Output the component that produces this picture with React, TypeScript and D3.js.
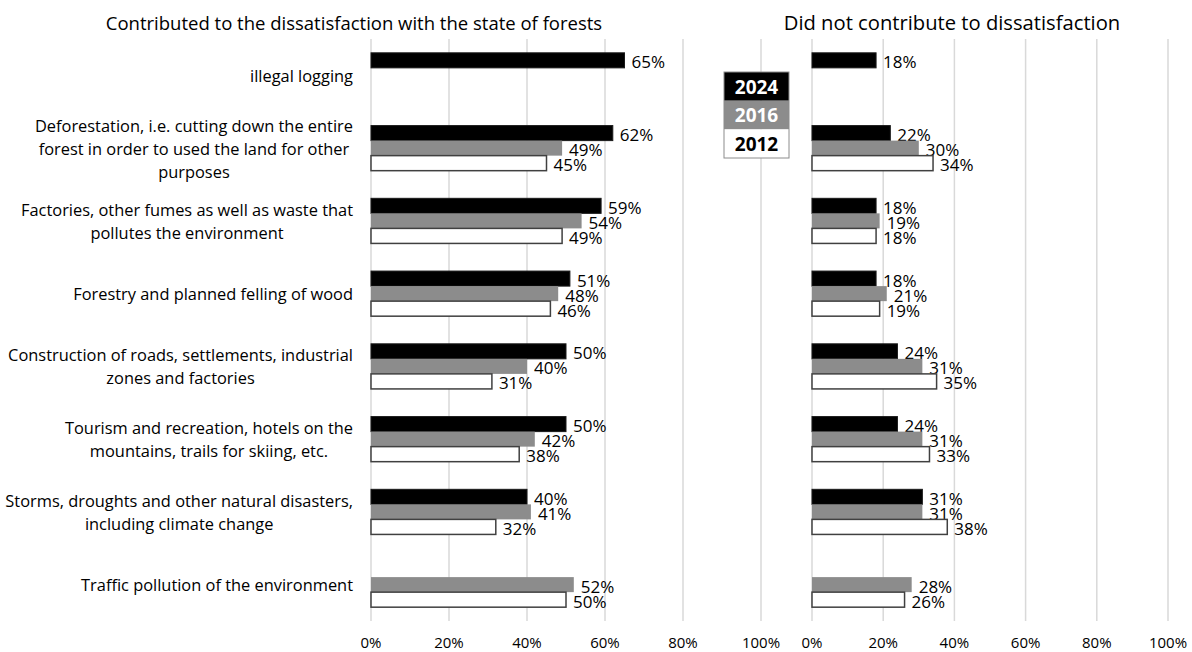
import React from "react";
import * as d3 from "d3";

const categories = [
  "illegal logging",
  "Deforestation",
  "Factories",
  "Forestry",
  "Construction",
  "Tourism",
  "Storms",
  "Traffic",
];

const categoryLines: string[][] = [
  ["illegal logging"],
  ["Deforestation, i.e. cutting down the entire", "forest in order to used the land for other", "purposes"],
  ["Factories, other fumes as well as waste that", "pollutes the environment"],
  ["Forestry and planned felling of wood"],
  ["Construction of roads, settlements, industrial", "zones and factories"],
  ["Tourism and recreation, hotels on the", "mountains, trails for skiing, etc."],
  ["Storms, droughts and other natural disasters,", "including climate change"],
  ["Traffic pollution of the environment"],
];

const years = ["2024", "2016", "2012"];

// Contributed to dissatisfaction (%)
const contributed2024 = [65, 62, 59, 51, 50, 50, 40, null];
const contributed2016 = [null, 49, 54, 48, 40, 42, 41, 52];
const contributed2012 = [null, 45, 49, 46, 31, 38, 32, 50];

// Did not contribute (%)
const notContributed2024 = [18, 22, 18, 18, 24, 24, 31, null];
const notContributed2016 = [null, 30, 19, 21, 31, 31, 31, 28];
const notContributed2012 = [null, 34, 18, 19, 35, 33, 38, 26];

const tickValues = [0, 0.2, 0.4, 0.6, 0.8, 1];

const leftTitle = "Contributed to the dissatisfaction with the state of forests";
const rightTitle = "Did not contribute to dissatisfaction";

const W = 1192;
const H = 652;
const FONT = "'Open Sans', sans-serif";

const fills: Record<string, string> = { "2024": "#000000", "2016": "#8c8c8c", "2012": "#ffffff" };
const strokes: Record<string, string> = { "2024": "#1a1a1a", "2016": "none", "2012": "#404040" };
const legendText: Record<string, string> = { "2024": "#ffffff", "2016": "#ffffff", "2012": "#000000" };

let ctx: CanvasRenderingContext2D | null = null;
function measure(text: string, font: string) {
  if (!ctx) ctx = document.createElement("canvas").getContext("2d");
  if (!ctx) return text.length * 7.5;
  ctx.font = font;
  return ctx.measureText(text).width;
}

export default function App() {
  const xL = d3.scaleLinear().domain([0, 1]).range([371, 761]);
  const xR = d3.scaleLinear().domain([0, 1]).range([812, 1168]);
  const y = d3.scaleBand<string>().domain(categories).range([39, 621]).paddingInner(0.38).paddingOuter(0.19);
  const yi = d3.scaleBand<string>().domain(years).range([0, y.bandwidth()]);
  const fmt = d3.format(".0%");

  const leftSeries: Record<string, (number | null)[]> = {
    "2024": contributed2024,
    "2016": contributed2016,
    "2012": contributed2012,
  };
  const rightSeries: Record<string, (number | null)[]> = {
    "2024": notContributed2024,
    "2016": notContributed2016,
    "2012": notContributed2012,
  };

  const catFontSize = 16.4;
  const catFont = `${catFontSize}px ${FONT}`;
  const valueFontSize = 17;
  const tickFontSize = 15;

  const panel = (x: d3.ScaleLinear<number, number>, series: Record<string, (number | null)[]>, key: string) => (
    <g key={key}>
      {tickValues.map((t) => (
        <line key={t} x1={x(t)} x2={x(t)} y1={39} y2={621} stroke="#d9d9d9" strokeWidth={1.5} />
      ))}
      {categories.map((c, i) =>
        years.map((yr) => {
          const v = series[yr][i];
          if (v == null) return null;
          const y0 = (y(c) as number) + (yi(yr) as number);
          const h = yi.bandwidth();
          return (
            <g key={c + yr}>
              <rect
                x={x(0)}
                y={y0}
                width={x(v / 100) - x(0)}
                height={h}
                fill={fills[yr]}
                stroke={strokes[yr]}
                strokeWidth={yr === "2012" ? 1.5 : 1}
              />
              <text
                x={x(v / 100) + 7}
                y={y0 + h / 2 + 1.5}
                dominantBaseline="central"
                fontFamily={FONT}
                fontSize={valueFontSize}
                fill="#000"
              >
                {v + "%"}
              </text>
            </g>
          );
        })
      )}
      {tickValues.map((t) => (
        <text
          key={"t" + t}
          x={x(t)}
          y={642}
          textAnchor="middle"
          dominantBaseline="central"
          fontFamily={FONT}
          fontSize={tickFontSize}
          fill="#000"
        >
          {fmt(t)}
        </text>
      ))}
    </g>
  );

  return (
    <svg width={W} height={H} style={{ position: "absolute", left: 0, top: 0, background: "#fff" }}>
      <rect x={0} y={0} width={W} height={H} fill="#fff" />
      {panel(xL, leftSeries, "L")}
      {panel(xR, rightSeries, "R")}
      {categories.map((c, i) => {
        const lines = categoryLines[i];
        const blockW = Math.max(...lines.map((l) => measure(l, catFont)));
        const cx = 353 - blockW / 2;
        const cy = (y(c) as number) + y.bandwidth() / 2;
        return (
          <g key={"lab" + c}>
            {lines.map((l, j) => (
              <text
                key={j}
                x={cx}
                y={cy + (j - (lines.length - 1) / 2) * 23}
                textAnchor="middle"
                dominantBaseline="central"
                fontFamily={FONT}
                fontSize={catFontSize}
                fill="#000"
              >
                {l}
              </text>
            ))}
          </g>
        );
      })}
      <text x={354} y={22} textAnchor="middle" dominantBaseline="central" fontFamily={FONT} fontSize={18.5} fill="#000">
        {leftTitle}
      </text>
      <text x={952} y={22} textAnchor="middle" dominantBaseline="central" fontFamily={FONT} fontSize={20.2} fill="#000">
        {rightTitle}
      </text>
      <g>
        {years.map((yr, i) => (
          <g key={"lg" + yr}>
            <rect x={724} y={72 + i * 28.7} width={65} height={28.7} fill={fills[yr]} />
            <text
              x={756.5}
              y={72 + i * 28.7 + 14.7}
              textAnchor="middle"
              dominantBaseline="central"
              fontFamily={FONT}
              fontWeight="bold"
              fontSize={19}
              fill={legendText[yr]}
            >
              {yr}
            </text>
          </g>
        ))}
        <rect x={724} y={72} width={65} height={86} fill="none" stroke="#8c8c8c" strokeWidth={1} />
      </g>
    </svg>
  );
}
